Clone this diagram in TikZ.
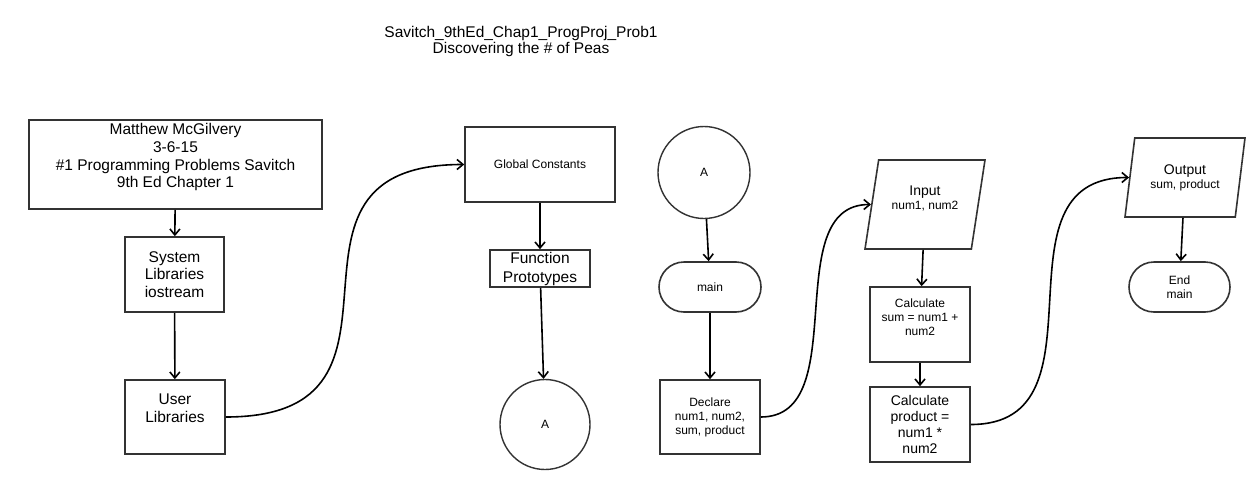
\documentclass[tikz,border=0pt]{standalone}
\usepackage{fontspec}
\setmainfont{Liberation Sans}
\usetikzlibrary{shapes.geometric,arrows.meta}

\newcommand{\bigtxt}{\fontsize{15.5}{17.7}\selectfont}
\newcommand{\midtxt}{\fontsize{14}{16}\selectfont}
\newcommand{\smalltxt}{\fontsize{12}{14}\selectfont}

\begin{document}
\begin{tikzpicture}[x=1pt, y=-1pt,
        box/.style={draw=black!80, line width=1.6pt, rectangle, align=center, inner sep=1pt},
        terminal/.style={box, rounded corners=25pt},
        io/.style={draw=black!80, line width=1.6pt, trapezium, trapezium left angle=71,
            trapezium right angle=109, trapezium stretches body, align=center, inner sep=1pt},
        connector/.style={draw=black!80, line width=1.4pt, circle, align=center, inner sep=1pt},
        conn/.style={line width=1.6pt, -{Straight Barb[length=6pt,width=10pt]}},
        swoop/.style={conn, line width=1.6pt}]

        \useasboundingbox (0,0) rectangle (1256,490);

        % title
        \node[font=\fontsize{15.5}{16}\selectfont, align=center] (title) at (521,41)
            {Savitch\_9thEd\_Chap1\_ProgProj\_Prob1\\Discovering the \# of Peas};

        % header and libraries
        \node[box, minimum width=293pt, minimum height=89pt, font=\bigtxt] (head) at (175.5,164.5)
            {Matthew McGilvery\\3-6-15\\\#1 Programming Problems Savitch\\9th Ed Chapter 1\\~};
        \node[box, minimum width=99pt, minimum height=75pt, font=\bigtxt] (syslib) at (174.5,274.5)
            {System\\Libraries\\iostream};
        \node[box, minimum width=100pt, minimum height=74pt, font=\bigtxt] (usrlib) at (175,417)
            {User\\Libraries\\~};

        % constants and prototypes
        \node[box, minimum width=150pt, minimum height=75pt, font=\smalltxt] (gconst) at (540,164.5)
            {Global Constants};
        \node[box, minimum width=100pt, minimum height=37pt, font=\fontsize{15.5}{19}\selectfont] (proto) at (540,268.5)
            {Function\\Prototypes};
        \node[connector, minimum size=90pt, font=\smalltxt] (offA) at (545,424.5) {A};

        % main
        \node[connector, minimum size=92pt, font=\smalltxt] (onA) at (704,172.5) {A};
        \node[terminal, minimum width=102pt, minimum height=50pt, font=\smalltxt] (main) at (710,287) {main};
        \node[box, minimum width=100pt, minimum height=74pt, font=\smalltxt] (decl) at (710,417)
            {Declare\\num1, num2,\\sum, product};

        % input and calculations
        \node[io, minimum width=120pt, minimum height=89pt, font=\smalltxt] (input) at (925,204.5)
            {{\midtxt Input}\\num1, num2\\~};
        \node[box, minimum width=100pt, minimum height=75pt, font=\smalltxt] (csum) at (920,324.5)
            {Calculate\\sum = num1 +\\num2\\~};
        \node[box, minimum width=100pt, minimum height=75pt, font=\midtxt] (cprod) at (920,424.5)
            {Calculate\\product =\\num1 *\\num2};

        % output and end
        \node[io, minimum width=120pt, minimum height=79pt, font=\smalltxt] (output) at (1185,177.5)
            {{\midtxt Output}\\sum, product};
        \node[terminal, minimum width=101pt, minimum height=50pt, font=\smalltxt] (endmain) at (1179.5,287)
            {End\\main};

        % arrows
        \draw[conn] (head) -- (syslib);
        \draw[conn] (syslib) -- (usrlib);
        \draw[swoop] (usrlib.east) to[out=0, in=180, looseness=1.6] (gconst.west);
        \draw[conn] (gconst) -- (proto);
        \draw[conn] (proto) -- (offA);
        \draw[conn] (onA) -- (main);
        \draw[conn] (main) -- (decl);
        \draw[swoop] (decl.east) to[out=0, in=180, looseness=1] (input.west);
        \draw[conn] (input) -- (csum);
        \draw[conn] (csum) -- (cprod);
        \draw[swoop] (cprod.east) to[out=0, in=180, looseness=1.25] (output.west);
        \draw[conn] (output) -- (endmain);

    \end{tikzpicture}
\end{document}
